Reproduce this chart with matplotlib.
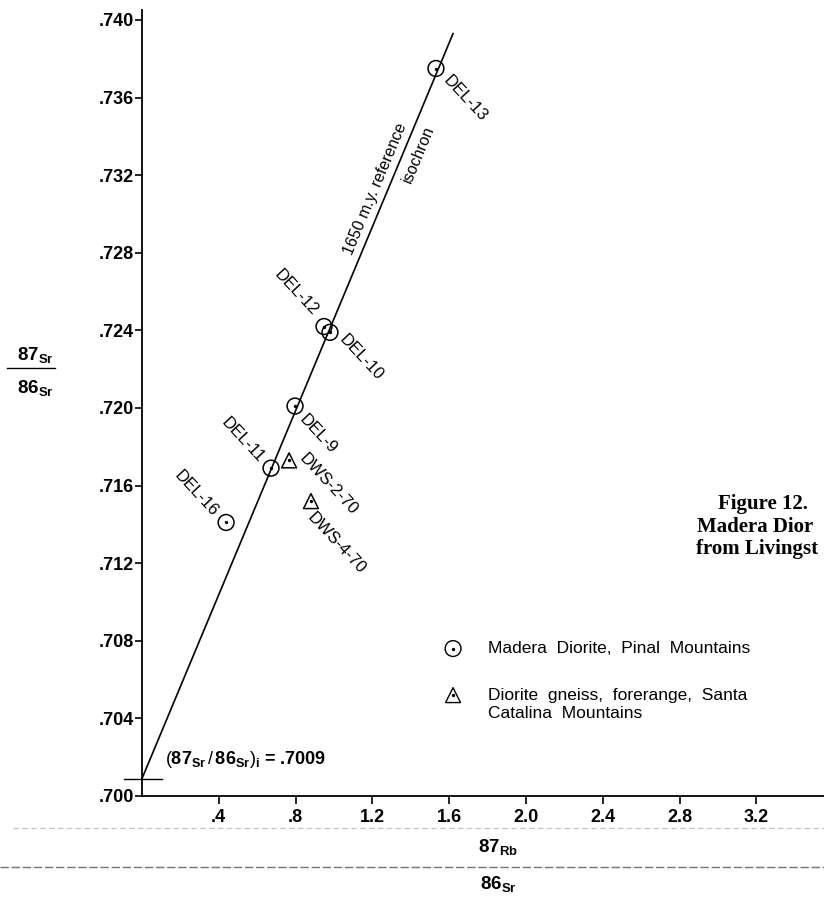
import matplotlib
matplotlib.use("Agg")
import matplotlib.pyplot as plt
from matplotlib.lines import Line2D

plt.rcParams['font.family'] = ['Liberation Sans', 'DejaVu Sans']
plt.rcParams['mathtext.fontset'] = 'custom'
plt.rcParams['mathtext.rm'] = 'Liberation Sans'
plt.rcParams['mathtext.bf'] = 'Liberation Sans:bold'
plt.rcParams['mathtext.it'] = 'Liberation Sans:italic'

# Madera Diorite, Pinal Mountains (circles)
del_names = ["DEL-13", "DEL-12", "DEL-10", "DEL-9", "DEL-11", "DEL-16"]
del_rb = [1.531, 0.948, 0.979, 0.797, 0.672, 0.438]
del_sr = [0.7375, 0.7242, 0.7239, 0.7201, 0.7169, 0.7141]

# Diorite gneiss, Santa Catalina Mountains (triangles)
dws_names = ["DWS-2-70", "DWS-4-70"]
dws_rb = [0.766, 0.880]
dws_sr = [0.7173, 0.7152]

# 1650 m.y. reference isochron
iso_rb = [0.0, 1.62]
iso_sr = [0.7009, 0.7393]
initial_ratio = 0.7009

x_ticks = [0.4, 0.8, 1.2, 1.6, 2.0, 2.4, 2.8, 3.2]
x_ticklabels = [".4", ".8", "1.2", "1.6", "2.0", "2.4", "2.8", "3.2"]
y_ticks = [0.700, 0.704, 0.708, 0.712, 0.716, 0.720, 0.724, 0.728, 0.732, 0.736, 0.740]
y_ticklabels = [".700", ".704", ".708", ".712", ".716", ".720", ".724", ".728", ".732", ".736", ".740"]

# label placement: (dx, dy) in points, horizontal alignment
label_pos = {
    "DEL-13": (7.5, -6.5, "left"),
    "DEL-10": (8.5, -3.5, "left"),
    "DEL-9": (5.0, -7.5, "left"),
    "DWS-2-70": (9.0, 3.0, "left"),
    "DWS-4-70": (-1.0, -10.0, "left"),
    "DEL-11": (-6.5, 6.0, "right"),
    "DEL-16": (-8.0, 6.0, "right"),
    "DEL-12": (-6.0, 9.5, "right"),
}

fig = plt.figure(figsize=(8.24, 9.01), dpi=100)
ax = fig.add_axes([142 / 824, 1 - 796 / 901, 682 / 824, 786 / 901])
ax.set_xlim(0, 682 / 192)
ax.set_ylim(0.700, 0.700 + 786 / 19400)

ax.spines['top'].set_visible(False)
ax.spines['right'].set_visible(False)
ax.spines['left'].set_linewidth(1.3)
ax.spines['bottom'].set_linewidth(1.3)

ax.set_xticks(x_ticks)
ax.set_xticklabels(x_ticklabels, fontsize=13, fontweight='bold')
ax.set_yticks(y_ticks)
ax.set_yticklabels(y_ticklabels, fontsize=13, fontweight='bold')
ax.tick_params(axis='x', direction='out', length=6, width=1.2, pad=3)
ax.tick_params(axis='y', direction='out', length=5, width=1.2, pad=0.5)

# isochron and intercept cross
ax.plot(iso_rb, iso_sr, color='black', lw=1.2, clip_on=False)
ax.plot([-0.094, 0.104], [initial_ratio, initial_ratio], color='black', lw=1.0, clip_on=False)

# data points
ax.scatter(del_rb, del_sr, s=130, facecolors='none', edgecolors='black', linewidths=1.1, zorder=3)
ax.scatter(del_rb, del_sr, s=2, color='black', zorder=4)
ax.scatter(dws_rb, dws_sr, s=115, marker='^', facecolors='none', edgecolors='black', linewidths=1.1, zorder=3)
ax.scatter(dws_rb, dws_sr, s=2, color='black', zorder=4)

for name, x, y in zip(del_names + dws_names, del_rb + dws_rb, del_sr + dws_sr):
    dx, dy, ha = label_pos[name]
    ax.annotate(name, (x, y), xytext=(dx, dy), textcoords='offset points',
                rotation=-47, rotation_mode='anchor', ha=ha, va='center', fontsize=12)

# isochron labels
ax.text(1.215, 0.7313, "1650 m.y. reference", rotation=67.3, rotation_mode='anchor',
        ha='center', va='center', fontsize=11.5)
ax.text(1.44, 0.7331, "isochron", rotation=67.3, rotation_mode='anchor',
        ha='center', va='center', fontsize=11.5)

ax.text(0.12, 0.7019, r"$(\mathbf{87}_{\mathbf{Sr}}\,/\,\mathbf{86}_{\mathbf{Sr}})_{\mathbf{i}}$ = .7009",
        fontsize=13, fontweight='bold', ha='left', va='center')

# legend
ax.scatter([1.62], [0.7076], s=130, facecolors='none', edgecolors='black', linewidths=1.0, clip_on=False)
ax.scatter([1.62], [0.7076], s=2, color='black')
ax.scatter([1.62], [0.7052], s=115, marker='^', facecolors='none', edgecolors='black', linewidths=1.0)
ax.scatter([1.62], [0.7052], s=2, color='black')
ax.text(1.80, 0.7076, "Madera  Diorite,  Pinal  Mountains", fontsize=12.5, va='center')
ax.text(1.80, 0.7052, "Diorite  gneiss,  forerange,  Santa", fontsize=12.5, va='center')
ax.text(1.80, 0.70425, "Catalina  Mountains", fontsize=12.5, va='center')

# axis labels as stacked fractions
fig.text(35 / 824, 1 - 355 / 901, r"87$_{\mathbf{Sr}}$", fontsize=13.5, fontweight='bold', ha='center', va='center')
fig.text(35 / 824, 1 - 388 / 901, r"86$_{\mathbf{Sr}}$", fontsize=13.5, fontweight='bold', ha='center', va='center')
fig.add_artist(Line2D([7 / 824, 55 / 824], [1 - 368 / 901, 1 - 368 / 901], color='black', lw=1.0))

fig.text(498 / 824, 1 - 847 / 901, r"87$_{\mathbf{Rb}}$", fontsize=13.5, fontweight='bold', ha='center', va='center')
fig.text(498 / 824, 1 - 884 / 901, r"86$_{\mathbf{Sr}}$", fontsize=13.5, fontweight='bold', ha='center', va='center')

# scan rule lines
fig.add_artist(Line2D([0, 1], [1 - 867 / 901, 1 - 867 / 901], color='0.45', lw=1.0, ls=(0, (6, 2))))
fig.add_artist(Line2D([13 / 824, 1], [1 - 828 / 901, 1 - 828 / 901], color='0.75', lw=0.8, ls=(0, (5, 3))))

# caption at right edge (only the part visible in the scan)
fig.text(718 / 824, 1 - 509 / 901, "Figure 12.", fontsize=15, fontweight='bold',
         family=['Liberation Serif'], ha='left', va='baseline')
fig.text(697 / 824, 1 - 532 / 901, "Madera Dior", fontsize=15, fontweight='bold',
         family=['Liberation Serif'], ha='left', va='baseline')
fig.text(696 / 824, 1 - 554 / 901, "from Livingst", fontsize=15, fontweight='bold',
         family=['Liberation Serif'], ha='left', va='baseline')

fig.savefig("out.png", dpi=100)
